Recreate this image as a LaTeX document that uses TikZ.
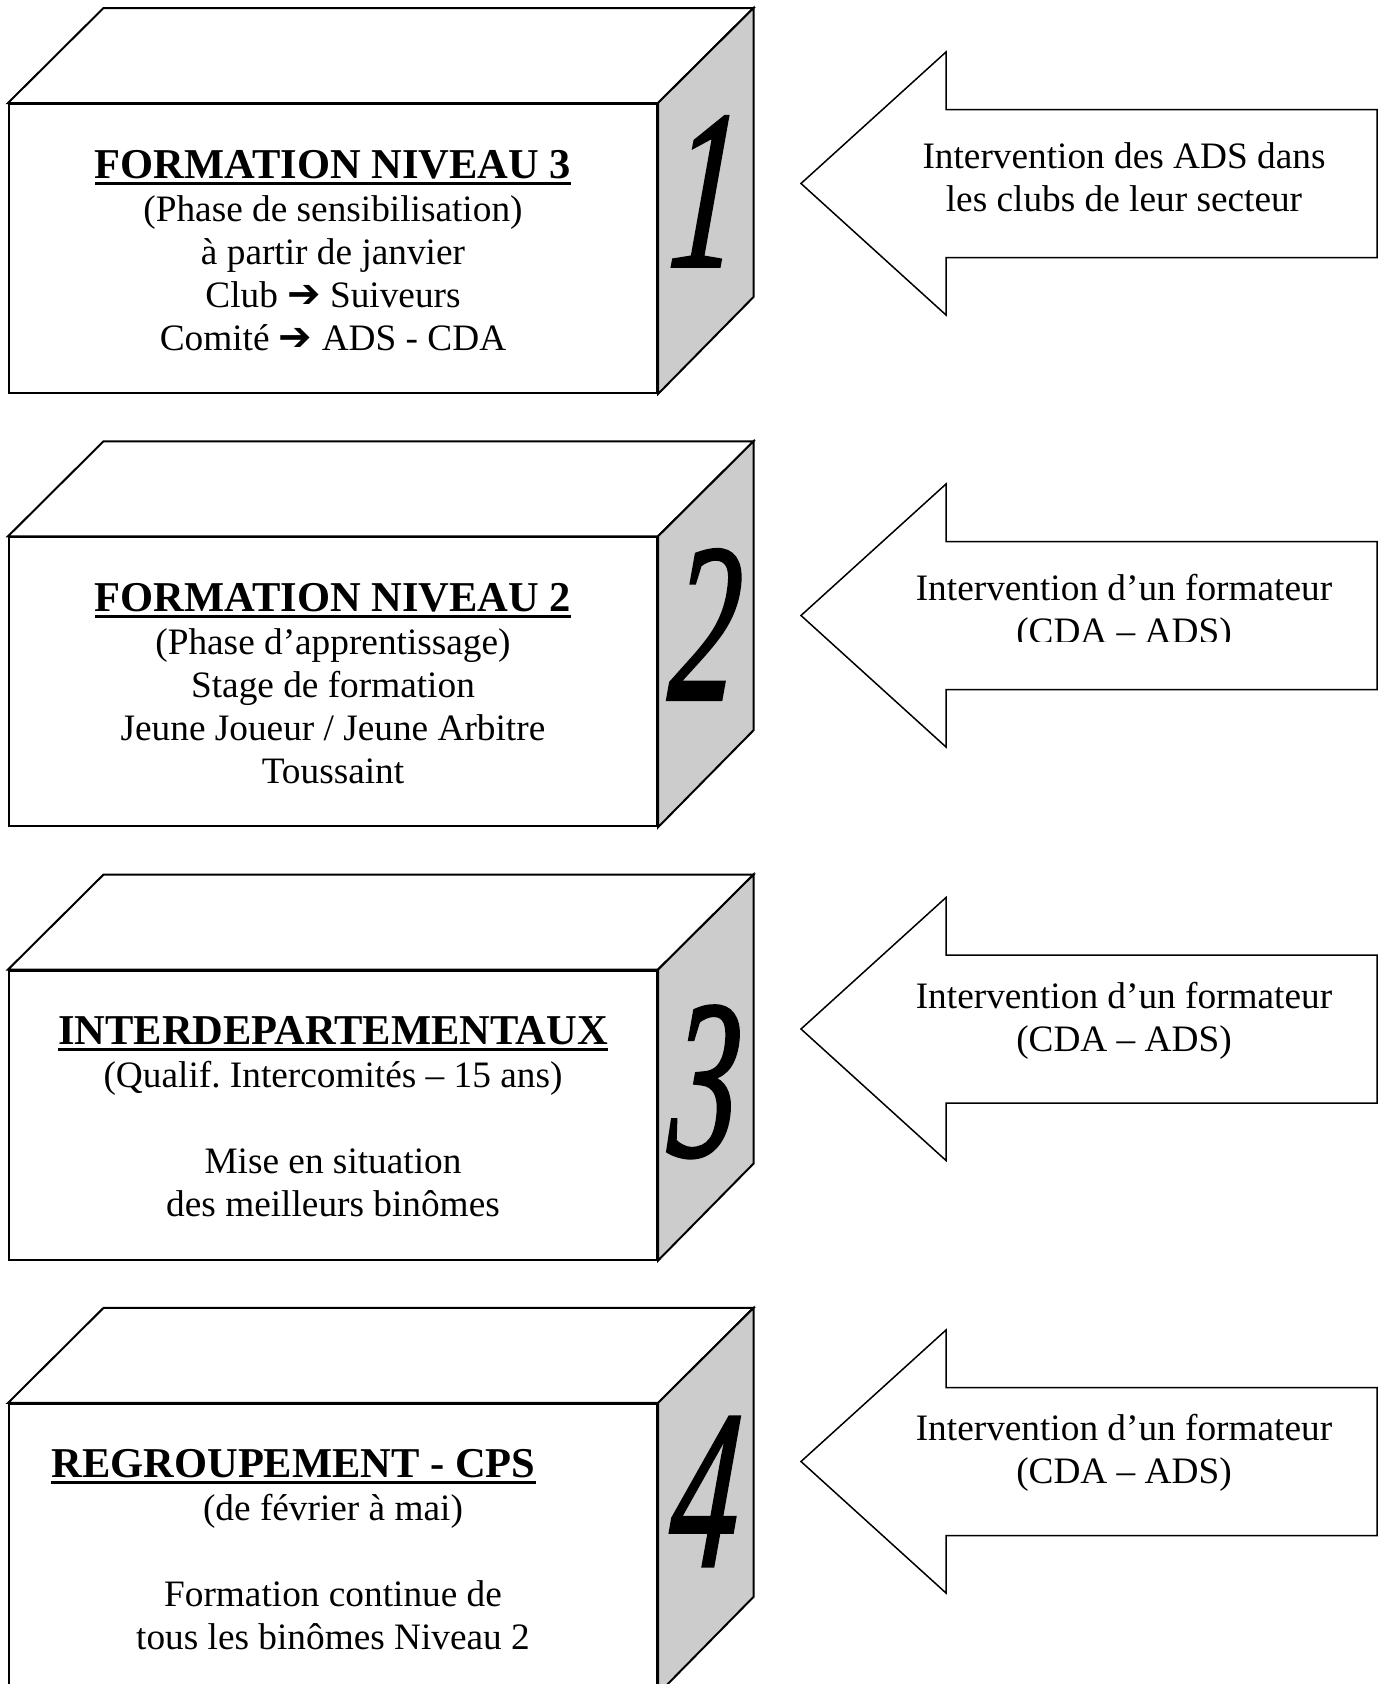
\documentclass[tikz,border=0pt]{standalone}
\usepackage{graphicx}
\usepackage{fontspec}
\setmainfont{Liberation Serif}
\newfontfamily\dingfont{DejaVu Sans}
\newfontfamily\numfont[FakeSlant=0.12,FakeBold=1.6]{Liberation Serif Italic}
\usetikzlibrary{calc,positioning}
\definecolor{faceGray}{RGB}{204,204,204}
\newsavebox{\titlebox}
\newcommand{\boxtitle}[1]{{\fontsize{42.5}{43}\selectfont\bfseries\sbox{\titlebox}{#1}\rlap{\rule[-6.5pt]{\wd\titlebox}{3pt}}\usebox{\titlebox}}}
\newcommand{\textstack}[1]{\begin{tabular}[t]{@{}c@{}}#1\end{tabular}}
\newcommand{\clubarrow}{{\dingfont\bfseries\fontsize{40}{43}\selectfont ➔}}
\newcommand{\cubedigit}[1]{\scalebox{0.6}[1]{#1}}

\begin{document}
\begin{tikzpicture}[x=1pt,y=-1pt,
  front/.style={draw,line width=2pt,fill=white,minimum width=648pt,minimum height=289pt,inner sep=0pt},
  topface/.style={draw,line width=2pt,fill=white},
  sideface/.style={draw,line width=2pt,fill=faceGray},
  boxtext/.style={anchor=base,inner sep=0pt,font=\fontsize{37.3}{43}\selectfont},
  cubenum/.style={anchor=base,inner sep=0pt,font=\numfont\fontsize{226}{226}\selectfont},
  arrowshape/.style={draw,line width=1.5pt,fill=white},
  arrowtext/.style={anchor=base,inner sep=0pt,font=\fontsize{37.3}{43}\selectfont}]
\useasboundingbox (0,0) rectangle (1383,1684);
\clip (0,0) rectangle (1383,1684);
\fill[white] (0,0) rectangle (1383,1684);

% the four blocks
\node[front] (box1) at (333,248.5) {};
\node[front,below=142.3pt of box1] (box2) {};
\node[front,below=142.3pt of box2] (box3) {};
\node[front,below=142.3pt of box3] (box4) {};
\foreach \b in {box1,box2,box3,box4}{
  \draw[topface] (\b.north west) -- ++(95.5,-95) -- ($(\b.north east)+(95.5,-95)$) -- (\b.north east) -- cycle;
  \draw[sideface] (\b.north east) -- ++(95.5,-95) -- ++(0,289) -- (\b.south east) -- cycle;
}
\node[cubenum] (num1) at ($(box1.north east)+(43,163)$) {\cubedigit{1}};
\node[cubenum] (num2) at ($(box2.north east)+(43,163)$) {\cubedigit{2}};
\node[cubenum] (num3) at ($(box3.north east)+(43,186)$) {\cubedigit{3}};
\node[cubenum] (num4) at ($(box4.north east)+(43,163)$) {\cubedigit{4}};

\node[boxtext] (txt1) at ($(box1.north)+(0,75)$) {\textstack{\boxtitle{FORMATION NIVEAU 3}\\(Phase de sensibilisation)\\à partir de janvier\\Club \clubarrow{} Suiveurs\\Comité \clubarrow{} ADS - CDA}};
\node[boxtext] (txt2) at ($(box2.north)+(0,75)$) {\textstack{\boxtitle{FORMATION NIVEAU 2}\\(Phase d’apprentissage)\\Stage de formation\\Jeune Joueur / Jeune Arbitre\\Toussaint}};
\node[boxtext] (txt3) at ($(box3.north)+(0,75)$) {\textstack{\boxtitle{INTERDEPARTEMENTAUX}\\(Qualif.\ Intercomités – 15 ans)\\ \\Mise en situation\\des meilleurs binômes}};
\node[boxtext] (txt4) at ($(box4.north)+(0,75)$) {\textstack{\boxtitle{REGROUPEMENT - CPS}\hspace*{79pt}\\(de février à mai)\\ \\Formation continue de\\tous les binômes Niveau 2}};

% big arrows pointing back to the blocks
\coordinate (tip1) at (801,183.5);
\coordinate (tip2) at (801,615.5);
\coordinate (tip3) at (801,1029);
\coordinate (tip4) at (801,1461.5);
\foreach \t in {tip1,tip2,tip3,tip4}
  \draw[arrowshape] (\t) -- ++(145,-131.5) -- ++(0,57.5) -- ++(431,0) -- ++(0,148) -- ++(-431,0) -- ++(0,57.5) -- cycle;

\node[arrowtext] (say1) at ($(tip1)+(323,-15.5)$) {\textstack{Intervention des ADS dans\\les clubs de leur secteur}};
\begin{scope}
\clip ($(tip2)+(100,-75)$) rectangle ($(tip2)+(570,25.5)$);
\node[arrowtext] (say2) at ($(tip2)+(323,-15.5)$) {\textstack{Intervention d’un formateur\\(CDA – ADS)}};
\end{scope}
\node[arrowtext] (say3) at ($(tip3)+(323,-21)$) {\textstack{Intervention d’un formateur\\(CDA – ADS)}};
\node[arrowtext] (say4) at ($(tip4)+(323,-21)$) {\textstack{Intervention d’un formateur\\(CDA – ADS)}};
\end{tikzpicture}
\end{document}
